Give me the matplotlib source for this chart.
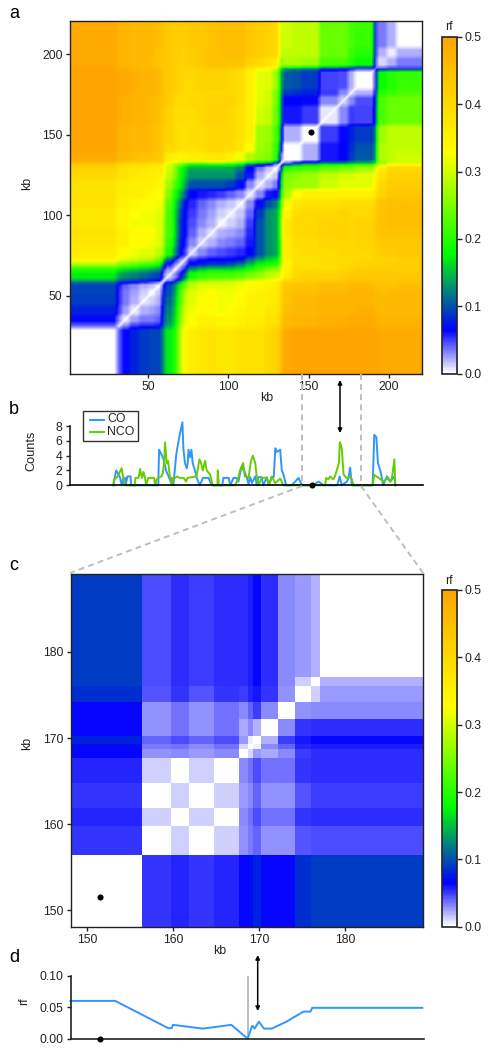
import numpy as np
import matplotlib
matplotlib.use('Agg')
import matplotlib.pyplot as plt
from matplotlib.colors import LinearSegmentedColormap
from matplotlib.lines import Line2D
from matplotlib.patches import FancyArrowPatch

plt.rcParams['font.family'] = ['Liberation Sans', 'DejaVu Sans']

W, H = 492, 1050

# bin edges of panel a, kb
edges_a = [1, 30, 33, 38, 44, 50, 54, 58, 60, 65, 68, 71, 74, 80, 86, 92, 98, 104, 110, 116, 122, 127, 131,
           133, 139, 145, 156, 168, 174, 178, 190, 192, 198, 204, 221]

# upper triangle of the rf matrix of panel a, each row starts on the diagonal
rf_a = [
    [0, .04, .064, .08, .09, .095, .095, .13, .17, .2, .28, .34, .36, .37, .38, .37, .37, .38, .38, .38, .4, .41, .44, .49, .5, .5, .5, .5, .5, .5, .5, .49, .49, .49],
    [.015, .03, .05, .055, .055, .06, .1, .14, .18, .26, .32, .33, .35, .35, .34, .34, .35, .36, .36, .38, .39, .42, .46, .47, .47, .48, .48, .49, .49, .48, .47, .47, .47],
    [.008, .025, .035, .035, .04, .09, .13, .17, .25, .31, .33, .35, .35, .34, .34, .35, .36, .36, .38, .38, .41, .46, .47, .47, .48, .48, .49, .49, .48, .47, .47, .47],
    [.006, .02, .025, .03, .085, .12, .16, .24, .3, .32, .33, .33, .32, .33, .34, .35, .35, .37, .37, .4, .45, .46, .46, .47, .47, .47, .48, .47, .46, .46, .46],
    [.008, .012, .02, .075, .11, .15, .22, .29, .31, .33, .33, .32, .32, .33, .35, .35, .36, .37, .4, .44, .46, .46, .47, .47, .47, .47, .46, .46, .46, .46],
    [0, .015, .065, .1, .14, .21, .28, .31, .32, .33, .32, .32, .33, .34, .35, .36, .36, .39, .44, .45, .45, .46, .46, .47, .47, .46, .45, .46, .46],
    [.005, .05, .095, .13, .19, .25, .29, .31, .31, .31, .31, .32, .33, .34, .35, .36, .39, .43, .44, .44, .45, .45, .46, .46, .45, .44, .44, .45],
    [.02, .04, .07, .12, .19, .26, .28, .29, .29, .3, .31, .33, .33, .34, .35, .38, .41, .42, .42, .43, .44, .44, .44, .43, .43, .43, .44],
    [.015, .03, .06, .11, .19, .21, .22, .22, .22, .23, .25, .27, .29, .3, .31, .36, .4, .41, .41, .42, .43, .43, .43, .43, .43, .43],
    [.01, .03, .06, .13, .15, .16, .16, .16, .17, .19, .22, .25, .26, .28, .35, .39, .39, .39, .4, .41, .42, .42, .42, .42, .42],
    [.015, .03, .07, .08, .09, .09, .1, .12, .15, .18, .19, .2, .27, .34, .38, .38, .39, .4, .4, .41, .41, .41, .42, .42],
    [.02, .05, .06, .065, .065, .065, .07, .11, .14, .16, .17, .24, .35, .38, .38, .39, .39, .4, .4, .41, .41, .41, .42],
    [.015, .03, .04, .045, .05, .055, .065, .1, .13, .14, .22, .36, .38, .39, .39, .4, .4, .4, .41, .42, .42, .43],
    [.012, .02, .03, .035, .04, .06, .1, .13, .14, .22, .36, .39, .39, .4, .4, .4, .41, .42, .43, .43, .43],
    [.01, .02, .025, .03, .055, .1, .13, .14, .23, .37, .4, .4, .41, .41, .4, .41, .43, .44, .44, .44],
    [.005, .012, .02, .05, .1, .13, .14, .23, .37, .4, .4, .41, .41, .4, .41, .43, .44, .45, .45],
    [.006, .015, .04, .09, .13, .14, .22, .35, .39, .4, .4, .41, .4, .4, .42, .44, .45, .45],
    [.006, .03, .07, .1, .12, .2, .32, .37, .38, .38, .39, .39, .39, .41, .44, .45, .45],
    [.01, .03, .06, .065, .15, .28, .33, .35, .35, .35, .35, .35, .37, .41, .43, .43],
    [.01, .02, .035, .12, .26, .27, .27, .3, .31, .31, .31, .35, .4, .42, .42],
    [.008, .015, .1, .25, .26, .27, .29, .3, .3, .31, .33, .38, .41, .41],
    [.004, .05, .2, .21, .22, .24, .25, .25, .27, .3, .36, .4, .4],
    [.003, .05, .09, .12, .14, .14, .15, .16, .2, .26, .3, .3],
    [0, 0, .02, .06, .065, .09, .105, .14, .28, .29, .3],
    [0, .02, .06, .065, .085, .1, .13, .28, .29, .29],
    [0, .05, .064, .08, .09, .12, .27, .29, .29],
    [.006, .03, .05, .048, .09, .22, .24, .24],
    [.015, .03, .045, .08, .22, .24, .24],
    [.012, .02, .07, .2, .21, .22],
    [0, .06, .18, .2, .21],
    [.02, .05, .055, .05],
    [.01, .02, .035],
    [.005, .02],
    [0],
]

# bin edges of panel c, kb
edges_c = [148.1, 156.4, 159.8, 161.85, 164.8, 167.7, 168.7, 169.3, 170.2, 172.2, 174.2, 176, 177.1, 189]

rf_c = [
    [0, .051, .055, .052, .055, .064, .07, .08, .064, .064, .085, .09, .09],
    [0, .0128, 0, .0128, .028, .034, .04, .028, .028, .043, .045, .045],
    [0, .0128, 0, .031, .036, .046, .036, .036, .051, .054, .054],
    [0, .0128, .026, .03, .041, .029, .029, .044, .049, .049],
    [0, .031, .036, .046, .036, .036, .051, .054, .054],
    [0, .01, .026, .023, .031, .05, .054, .054],
    [0, .005, .03, .04, .055, .058, .058],
    [0, .02, .05, .06, .064, .064],
    [0, .031, .051, .054, .054],
    [0, .029, .031, .031],
    [0, .0128, .026],
    [0, .02],
    [0],
]

# panel b counts
co_kb = [28.3, 30, 31.4, 32.5, 33.5, 34.5, 35, 35.6, 36, 37, 39, 39.3, 42, 56.2, 56.7, 58.5, 59.5, 61, 63, 64, 64.5, 65.6,
         67.3, 68, 69.7, 71.2, 71.8, 72.8, 73.9, 74.5, 75, 76, 76.8, 77.6, 79, 80.1, 82, 84, 87.4, 89.5, 96, 96.7, 100, 101,
         103, 105, 106, 107, 108, 110, 111.3, 112.3, 113.4, 114.4, 116.5, 117.5, 118.5, 120.5, 121.5, 123.7, 124.8, 126.8, 128,
         129, 130, 132, 133, 134, 135.7, 139, 140.5, 143.4, 145.5, 152, 155.9, 159, 167.5, 169, 170.3, 173.5, 174.5, 175.5, 176.6,
         189.5, 190.5, 191.8, 192.8, 194.2, 195.3, 196, 198.4, 200.5, 203, 203.6]
co_n = [0, 2, 1.5, 1, 0, 1, 0.2, 1, 0, 1.2, 1.2, 0, 0, 0, 4.8, 4, 3.5, 2, 1, 0.4, 1, 0,
        4, 5, 7, 8.5, 5, 3, 2.3, 3, 4.8, 3.8, 4.8, 3, 2, 1, 0, 1, 1, 0, 0, 1, 1, 0,
        1, 1, 0.5, 1.5, 2.5, 1.8, 1, 0.2, 1.1, 0.3, 1.2, 0, 1.1, 1.1, 0, 1.1, 0.1, 1.1, 1.1,
        5, 4.5, 4.8, 2, 1.5, 0, 0, 0.3, 1, 0, 0, 0.5, 0, 0, 1.2, 0, 0.5, 1, 2.4, 0,
        0, 6.8, 6.5, 3, 2, 1, 0, 1.2, 0.5, 1.2, 0]

nco_kb = [28.3, 28.7, 30, 31, 33.4, 34.5, 35.7, 41.5, 42, 44, 44.9, 45.5, 46.1, 47, 48, 48.6, 50, 53.6, 54.2, 55.2, 56.2,
          58.2, 59, 59.8, 60.4, 61.4, 62.3, 63.5, 64.6, 65.6, 66.7, 68, 69.3, 72, 73.5, 74.3, 80, 81.8, 82.8, 83.9, 85.3, 86.3,
          88.4, 90, 93, 93.2, 93.8, 104, 106, 107, 109, 110, 111, 112.3, 113.8, 115, 116.5, 117.5, 118.5, 120.5, 123.7, 125.2,
          126.8, 128.9, 132, 133, 134, 160, 160.5, 162, 163, 165, 166, 167.2, 168.5, 169.1, 170.3, 171.4, 173, 175.5, 176.5, 177.6,
          189.5, 190.5, 193.2, 196.3, 198.4, 200.5, 201.5, 203, 203.6]
nco_n = [0, 0.8, 1, 1.2, 2.3, 1, 0, 0, 1, 1, 2.2, 1.5, 1, 1.8, 1, 0, 1, 1, 0, 0.8, 1,
         1.2, 1.6, 3, 5.8, 3, 3.3, 1, 0, 1, 1, 1.2, 1, 1, 0.5, 1, 1.2, 3.5, 3, 2, 3.3, 2,
         1.5, 0, 0, 2, 0, 0, 1, 2, 3, 1.2, 1.2, 1, 3.2, 4, 3, 1, 0, 1, 1, 0,
         1.2, 0.3, 0.9, 0.5, 0, 0, 1, 0.8, 1.2, 0.8, 1.2, 2, 3, 5.8, 5, 1.5, 1, 1.2, 0.8, 0,
         0, 1.4, 1, 0.5, 1, 0.5, 1, 3.5, 0]

# panel d line
d_kb = [148.1, 153.3, 159.5, 159.9, 160, 163.5, 166.8, 168.7, 169.2, 169.3, 169.5, 170, 170.6, 171.5, 173.2, 175.2, 176, 176.2, 189]
d_rf = [.06, .06, .0165, .017, .022, .016, .022, 0, .02, .02, .016, .027, .016, .016, .027, .043, .043, .049, .049]

dot_kb = 151.5
gap_kb = 168.7

rf_ticks = [0, .1, .2, .3, .4, .5]
a_ticks = [50, 100, 150, 200]
c_ticks = [150, 160, 170, 180]
b_ticks = [0, 2, 4, 6, 8]
d_ticks = [0, .05, .10]

CO_COL = '#2E96FF'
NCO_COL = '#66CC00'
DARK = '#222222'
GRAY = '#BDBDBD'
FS = 8.8

cmap = LinearSegmentedColormap.from_list('rf', [(0, (1, 1, 1)), (.064 / .5, (0, 0, 1)), (.178 / .5, (0, 1, 0)),
                                                (.327 / .5, (1, 1, 0)), (1, (1, 165 / 255, 0))])


def full_matrix(rows):
    n = len(rows)
    m = np.zeros((n, n))
    for i in range(n):
        m[i, i:] = rows[i]
        m[i:, i] = rows[i]
    return m


def px_axes(fig, left, top, right, bottom):
    return fig.add_axes([left / W, 1 - bottom / H, (right - left) / W, (bottom - top) / H])


def style(ax, lw=1.0):
    for s in ax.spines.values():
        s.set_linewidth(lw)
        s.set_color(DARK)
    ax.tick_params(labelsize=FS, length=3, width=1, pad=2, color=DARK, labelcolor=DARK)


def add_colorbar(fig, im, top, bottom):
    cax = px_axes(fig, 441.7, top, 456.7, bottom)
    cb = fig.colorbar(im, cax=cax)
    cb.set_ticks(rf_ticks)
    cb.set_ticklabels(['%.1f' % t for t in rf_ticks])
    cb.outline.set_linewidth(1.2)
    cb.outline.set_edgecolor(DARK)
    cax.tick_params(labelsize=FS, length=3.5, width=1, pad=2, color=DARK, labelcolor=DARK)
    cax.text(0.5, 1.01, 'rf', transform=cax.transAxes, ha='center', va='bottom', fontsize=FS, color=DARK)


fig = plt.figure(figsize=(W / 100, H / 100), dpi=100)

# panel a: put the bins on a 1 kb grid, soften a little like the scanned image
M_a = full_matrix(rf_a)
centers = np.arange(1, 221) + 0.5
idx = np.searchsorted(edges_a, centers) - 1
grid = M_a[np.ix_(idx, idx)]
for axis in (0, 1):
    pad = [(1, 1) if k == axis else (0, 0) for k in (0, 1)]
    p = np.pad(grid, pad, mode='edge')
    grid = (np.take(p, range(0, p.shape[axis] - 2), axis) + np.take(p, range(1, p.shape[axis] - 1), axis)
            + np.take(p, range(2, p.shape[axis]), axis)) / 3
inner = (centers > 31) & (centers < 190)
for i in np.where(inner)[0]:
    grid[i, i] = grid[i, i] * .15
    grid[i - 1, i] = grid[i - 1, i] * .7
    grid[i, i - 1] = grid[i, i - 1] * .7

ax_a = px_axes(fig, 69.5, 21, 422, 373.7)
im_a = ax_a.imshow(grid, origin='lower', extent=(1, 221, 1, 221), cmap=cmap, vmin=0, vmax=.5,
                   interpolation='bilinear', aspect='auto')
ax_a.plot([dot_kb], [dot_kb], 'o', color='black', ms=4.4, mew=0)
ax_a.set_xlim(1, 220.5)
ax_a.set_ylim(1.5, 220.5)
ax_a.set_xticks(a_ticks)
ax_a.set_yticks(a_ticks)
style(ax_a)
add_colorbar(fig, im_a, 36.7, 373.7)

# panel b
ax_b = px_axes(fig, 69.5, 426, 422.5, 485.3)
ax_b.plot(co_kb, co_n, color=CO_COL, lw=1.4, clip_on=False)
ax_b.plot(nco_kb, nco_n, color=NCO_COL, lw=1.4, clip_on=False)
ax_b.plot([dot_kb], [0], 'o', color='black', ms=4.4, mew=0, clip_on=False, zorder=5)
ax_b.set_xlim(1, 220.5)
ax_b.set_ylim(0, 8)
ax_b.set_xticks([])
ax_b.set_yticks(b_ticks)
ax_b.spines['top'].set_visible(False)
ax_b.spines['right'].set_visible(False)
style(ax_b, 1.2)
ax_b.spines['bottom'].set_color('black')

# panel c
M_c = full_matrix(rf_c)
ax_c = px_axes(fig, 70.7, 574.3, 422.7, 926.7)
im_c = ax_c.pcolormesh(edges_c, edges_c, M_c, cmap=cmap, vmin=0, vmax=.5)
ax_c.plot([dot_kb], [dot_kb], 'o', color='black', ms=4.4, mew=0)
ax_c.set_xlim(148.1, 189)
ax_c.set_ylim(148.1, 189)
ax_c.set_xticks(c_ticks)
ax_c.set_yticks(c_ticks)
style(ax_c)
add_colorbar(fig, im_c, 590, 926.7)

# panel d
ax_d = px_axes(fig, 70.5, 975.7, 424, 1038.7)
ax_d.plot([gap_kb, gap_kb], [0, .1], color=GRAY, lw=1.4)
ax_d.plot(d_kb, d_rf, color=CO_COL, lw=1.4, clip_on=False)
ax_d.plot([dot_kb], [0], 'o', color='black', ms=4.4, mew=0, clip_on=False, zorder=5)
ax_d.set_xlim(148.1, 189.2)
ax_d.set_ylim(0, .1)
ax_d.set_xticks([])
ax_d.set_yticks(d_ticks)
ax_d.set_yticklabels(['0.00', '0.05', '0.10'])
ax_d.spines['top'].set_visible(False)
ax_d.spines['right'].set_visible(False)
style(ax_d, 1.2)

# everything drawn between the panels goes on a pixel overlay
over = fig.add_axes([0, 0, 1, 1], zorder=10)
over.set_xlim(0, W)
over.set_ylim(H, 0)
over.axis('off')

for x0, y0, x1, y1 in [(302, 374, 302, 485), (361, 374, 361, 485), (302, 486, 70, 573), (361, 486, 423, 573)]:
    over.add_line(Line2D([x0, x1], [y0, y1], color=GRAY, lw=1.4, dashes=(3, 2.2), zorder=0))

for x, y0, y1 in [(340, 380, 433), (257.7, 955, 1011)]:
    over.add_patch(FancyArrowPatch((x, y0), (x, y1), arrowstyle='<|-|>', mutation_scale=6, lw=1.1,
                                   color='black', shrinkA=0, shrinkB=0))

for s, x, y in [('a', 14, 13), ('b', 14, 409), ('c', 14, 566), ('d', 14, 958)]:
    over.text(x, y, s, fontsize=13, ha='center', va='center', color='black')

over.text(267, 398, 'kb', fontsize=FS, ha='center', va='center', color=DARK)
over.text(220, 950.7, 'kb', fontsize=FS, ha='center', va='center', color=DARK)
over.text(27, 183, 'kb', fontsize=FS, ha='center', va='center', rotation=90, color=DARK)
over.text(27, 743, 'kb', fontsize=FS, ha='center', va='center', rotation=90, color=DARK)
over.text(31, 451, 'Counts', fontsize=9.2, ha='center', va='center', rotation=90, color=DARK)
over.text(24, 1001, 'rf', fontsize=FS, ha='center', va='center', rotation=90, color=DARK)

# legend box of panel b
over.add_patch(plt.Rectangle((82.7, 410.7), 55.3, 30.3, fc='white', ec='#333333', lw=1, zorder=3))
over.add_line(Line2D([89.5, 104], [419.5, 419.5], color=CO_COL, lw=1.4, zorder=4))
over.add_line(Line2D([89.5, 104], [432, 432], color=NCO_COL, lw=1.4, zorder=4))
over.text(107.5, 419.5, 'CO', fontsize=FS, va='center', color=DARK, zorder=4)
over.text(107.5, 432, 'NCO', fontsize=FS, va='center', color=DARK, zorder=4)

fig.savefig('out.png', dpi=100)
